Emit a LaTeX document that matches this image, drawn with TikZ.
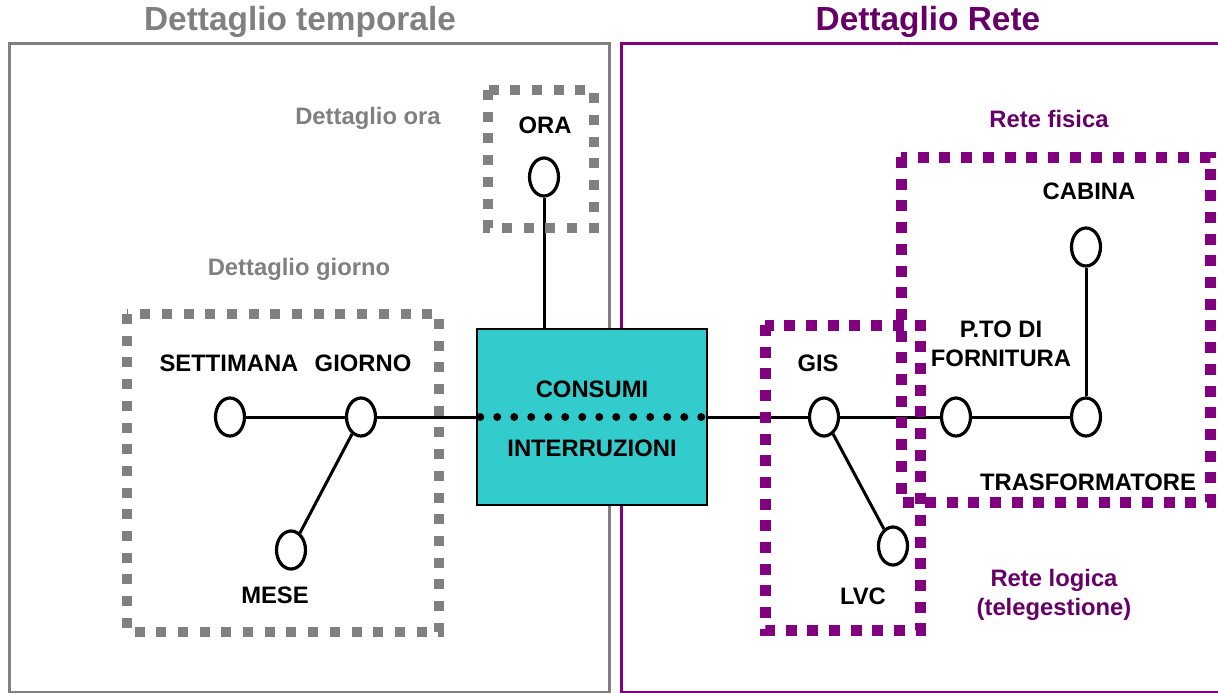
\documentclass[tikz,border=0pt]{standalone}
\usepackage{fontspec}
\setmainfont{Liberation Sans}
\usetikzlibrary{shapes.geometric}
\definecolor{tgray}{HTML}{808080}
\definecolor{pbox}{HTML}{800080}
\definecolor{ptext}{HTML}{660066}
\definecolor{boxteal}{HTML}{33CCCC}
\begin{document}
\begin{tikzpicture}[x=1pt,y=-1pt,
  lbl/.style={font=\bfseries\fontsize{23.8}{28}\selectfont, inner sep=0pt, anchor=base},
  ttl/.style={font=\bfseries\fontsize{33.4}{38}\selectfont, inner sep=0pt, anchor=base},
  ent/.style={ellipse, draw, line width=3.2pt, fill=white, minimum width=29pt, minimum height=38pt, inner sep=0pt},
  conn/.style={line width=3pt},
  gdot/.style={draw=tgray, line width=10pt, dash pattern=on 10pt off 11.7pt},
  pdot/.style={draw=pbox, line width=11pt, dash pattern=on 11pt off 10.7pt},
  frameline/.style={line width=3pt}]
\useasboundingbox (0,0) rectangle (1218,693);

% outer frames
\draw[frameline, draw=tgray] (9,44) rectangle (609,692);
\draw[frameline, draw=pbox] (621,44) rectangle (1240,692);

% central box
\node[draw, line width=1.5pt, fill=boxteal, minimum width=230pt, minimum height=176pt, inner sep=0pt] (box) at (592,417) {};

% entities
\node[ent] (sett) at (230,417) {};
\node[ent] (gior) at (361,417) {};
\node[ent] (mese) at (291,550) {};
\node[ent] (ora) at (544,177) {};
\node[ent] (gis) at (824,417) {};
\node[ent] (pto) at (956,417) {};
\node[ent] (trf) at (1086,417) {};
\node[ent] (cab) at (1086,247) {};
\node[ent] (lvc) at (893,546) {};

% connectors
\draw[conn] (sett) -- (gior);
\draw[conn] (gior) -- (box.west);
\draw[conn] (gior) -- (mese);
\draw[conn] (ora) -- (ora |- box.north);
\draw[conn] (box.east) -- (gis);
\draw[conn] (gis) -- (pto);
\draw[conn] (pto) -- (trf);
\draw[conn] (trf) -- (cab);
\draw[conn] (gis) -- (lvc);

% dotted separator inside the box
\draw[line width=8pt, line cap=round, dash pattern=on 0pt off 17pt] ([xshift=4pt]box.west) -- (box.east);

% dotted grouping boxes
\draw[gdot] (488,90) rectangle (594,228);
\draw[gdot] (127,314) rectangle (439,632);
\draw[pdot] (765,325) rectangle (920,630);
\draw[pdot] (901,157) rectangle (1210,502);

% titles
\node[ttl, text=tgray] (t1) at (300,31) {Dettaglio temporale};
\node[ttl, text=ptext] (t2) at (928,31) {Dettaglio Rete};

% group labels
\node[lbl, text=tgray] (gora) at (368,124) {Dettaglio ora};
\node[lbl, text=tgray] (ggio) at (299,275) {Dettaglio giorno};
\node[lbl, text=ptext] (gfis) at (1049,127) {Rete fisica};
\node[lbl, text=ptext] (glog1) at (1054,586) {Rete logica};
\node[lbl, text=ptext] (glog2) at (1054,615) {(telegestione)};

% entity labels
\node[lbl] (lora) at (545,133) {ORA};
\node[lbl] (lsett) at (229,371) {SETTIMANA};
\node[lbl] (lgior) at (363,371) {GIORNO};
\node[lbl] (lmese) at (275,603) {MESE};
\node[lbl] (lcons) at (592,397) {CONSUMI};
\node[lbl] (lint) at (592,456) {INTERRUZIONI};
\node[lbl] (lgis) at (818,371) {GIS};
\node[lbl] (lpto1) at (1001,337) {P.TO DI};
\node[lbl] (lpto2) at (1001,366) {FORNITURA};
\node[lbl] (lcab) at (1089,199) {CABINA};
\node[lbl] (ltrf) at (1088,490) {TRASFORMATORE};
\node[lbl] (llvc) at (863,604) {LVC};
\end{tikzpicture}
\end{document}
